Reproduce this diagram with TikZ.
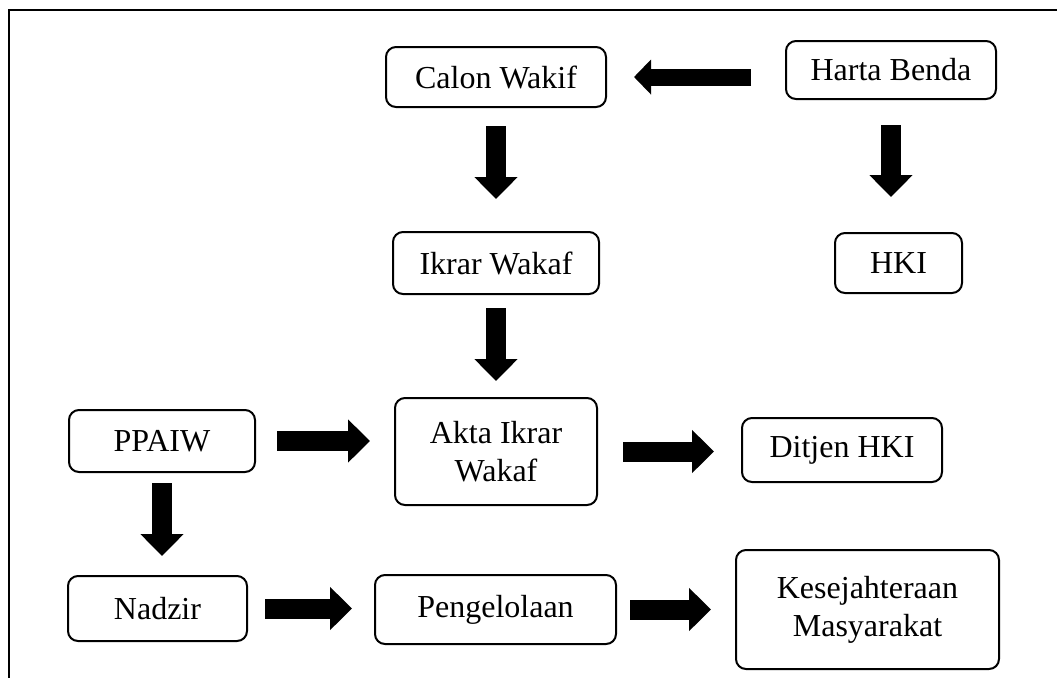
\documentclass[tikz,border=0pt]{standalone}
\usepackage{fontspec}
\setmainfont{Liberation Serif}
\usetikzlibrary{arrows.meta}

\begin{document}
\begin{tikzpicture}[x=0.5pt, y=-0.5pt,
  box/.style={draw, line width=1pt, rounded corners=5pt, align=center, inner sep=0pt,
    font=\fontsize{16}{19}\selectfont},
  blk/.style={line width=10pt, -{Triangle[length=11pt, width=21pt]}},
  blkthin/.style={line width=8.5pt, -{Triangle[length=8.5pt, width=17pt]}}]
  \useasboundingbox (0,0) rectangle (1057,677);
  % Frame
  \draw[line width=1pt] (9,700) -- (9,10) -- (1080,10);

  % Top row
  \node[box, minimum width=110pt, minimum height=30pt] (calon) at (496,77) {Calon Wakif};
  \node[box, minimum width=105pt, minimum height=29pt] (harta) at (891,70) {Harta Benda};

  % Second row
  \node[box, minimum width=103pt, minimum height=31pt] (ikrar) at (496,263) {Ikrar Wakaf};
  \node[box, minimum width=63.5pt, minimum height=30pt] (hki) at (898.5,263) {HKI};

  % Third row
  \node[box, minimum width=93pt, minimum height=31pt] (ppaiw) at (162,441) {PPAIW};
  \node[box, minimum width=101pt, minimum height=53.5pt] (akta) at (496,451.5) {Akta Ikrar\\Wakaf};
  \node[box, minimum width=100pt, minimum height=32pt] (ditjen) at (842,450) {Ditjen HKI};

  % Bottom row
  \node[box, minimum width=89.5pt, minimum height=32.5pt] (nadzir) at (157.5,608.5) {Nadzir};
  \node[box, minimum width=120.5pt, minimum height=34.5pt] (peng) at (495.5,609.5) {Pengelolaan};
  \node[box, minimum width=131.5pt, minimum height=59.5pt] (kesej) at (867.5,609.5) {Kesejahteraan\\Masyarakat};

  % Arrows
  \draw[blkthin, shorten <=17pt, shorten >=13.5pt] (calon.east -| harta.west) -- (calon.east);
  \draw[blk, shorten <=9pt, shorten >=16pt] (calon.south) -- (ikrar.north);
  \draw[blk, shorten <=12.5pt, shorten >=17.5pt] (harta.south) -- (harta.south |- hki.north);
  \draw[blk, shorten <=6.5pt, shorten >=8pt] (ikrar.south) -- (akta.north);
  \draw[blk, shorten <=10.5pt, shorten >=12pt] (ppaiw.east) -- (ppaiw.east -| akta.west);
  \draw[blk, shorten <=12.5pt, shorten >=13.5pt] (akta.east) -- (akta.east -| ditjen.west);
  \draw[blk, shorten <=5pt, shorten >=9.5pt] (ppaiw.south) -- (ppaiw.south |- nadzir.north);
  \draw[blk, shorten <=8.5pt, shorten >=11pt] (nadzir.east) -- (nadzir.east -| peng.west);
  \draw[blk, shorten <=6.5pt, shorten >=12pt] (peng.east) -- (peng.east -| kesej.west);
\end{tikzpicture}
\end{document}
